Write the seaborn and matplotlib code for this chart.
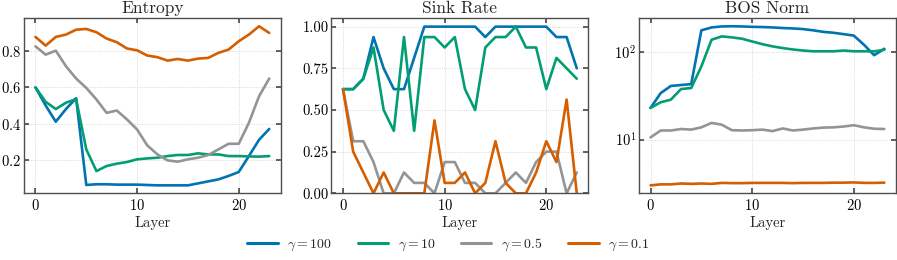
import numpy as np
import pandas as pd
import matplotlib
matplotlib.use("Agg")
import matplotlib.pyplot as plt
import seaborn as sns

# --- datos ---
layers = list(range(24))
gammas = ["$\\gamma=100$", "$\\gamma=10$", "$\\gamma=0.5$", "$\\gamma=0.1$"]

entropy_100 = [0.60, 0.50, 0.41, 0.48, 0.54, 0.060, 0.064, 0.064, 0.062, 0.062, 0.062, 0.060,
               0.058, 0.058, 0.058, 0.058, 0.069, 0.080, 0.091, 0.110, 0.132, 0.220, 0.31, 0.37]
entropy_10 = [0.60, 0.52, 0.48, 0.515, 0.535, 0.257, 0.137, 0.165, 0.178, 0.187, 0.202, 0.207,
              0.211, 0.220, 0.226, 0.226, 0.235, 0.229, 0.229, 0.220, 0.220, 0.218, 0.217, 0.220]
entropy_05 = [0.827, 0.781, 0.803, 0.717, 0.649, 0.597, 0.533, 0.459, 0.472, 0.423, 0.367, 0.279,
              0.229, 0.196, 0.189, 0.202, 0.211, 0.226, 0.257, 0.288, 0.288, 0.404, 0.551, 0.649]
entropy_01 = [0.879, 0.831, 0.879, 0.892, 0.919, 0.923, 0.905, 0.870, 0.850, 0.815, 0.805, 0.776,
              0.767, 0.748, 0.757, 0.748, 0.759, 0.763, 0.791, 0.809, 0.855, 0.892, 0.938, 0.901]

sink_100 = [0.625, 0.625, 0.6875, 0.9375, 0.75, 0.625, 0.625, 0.8125, 1.0, 1.0, 1.0, 1.0,
            1.0, 1.0, 0.9375, 1.0, 1.0, 1.0, 1.0, 1.0, 1.0, 0.9375, 0.9375, 0.75]
sink_10 = [0.625, 0.625, 0.6875, 0.875, 0.5, 0.375, 0.9375, 0.375, 0.9375, 0.9375, 0.875, 0.9375,
           0.625, 0.5, 0.875, 0.9375, 0.9375, 1.0, 0.875, 0.875, 0.625, 0.8125, 0.75, 0.6875]
sink_05 = [0.625, 0.3125, 0.3125, 0.1875, 0.0, 0.0, 0.125, 0.0625, 0.0625, 0.0, 0.1875, 0.1875,
           0.0625, 0.0625, 0.0, 0.0, 0.0625, 0.125, 0.0625, 0.1875, 0.25, 0.25, 0.0, 0.125]
sink_01 = [0.625, 0.25, 0.125, 0.0, 0.125, 0.0, 0.0, 0.0, 0.0, 0.4375, 0.0625, 0.0625,
           0.125, 0.0, 0.0625, 0.3125, 0.0625, 0.0, 0.0, 0.125, 0.3125, 0.1875, 0.5625, 0.0]

bos_100 = [23, 34, 41, 42, 43, 177, 191, 196, 197, 196, 194, 193,
           191, 188, 186, 183, 177, 170, 166, 160, 154, 121, 92, 109]
bos_10 = [23, 26.7, 28.6, 37.8, 38.8, 68.6, 138, 151, 147, 142, 132, 123,
          116, 111, 107, 104, 102, 102, 102, 104, 102, 102, 102, 106]
bos_05 = [10.6, 12.7, 12.7, 13.2, 13.0, 13.8, 15.5, 14.8, 12.8, 12.7, 12.8, 13.0,
          12.5, 13.4, 12.7, 13.0, 13.4, 13.7, 13.8, 14.1, 14.6, 13.8, 13.3, 13.2]
bos_01 = [3.0, 3.08, 3.08, 3.15, 3.12, 3.15, 3.12, 3.2, 3.18, 3.18, 3.2, 3.2,
          3.2, 3.2, 3.18, 3.2, 3.2, 3.2, 3.22, 3.22, 3.24, 3.2, 3.2, 3.22]

colores = ["#0173b2", "#029e73", "#949494", "#d55e00"]

# --- tabla larga ---
filas = []
series = {
    "Entropy": [entropy_100, entropy_10, entropy_05, entropy_01],
    "Sink Rate": [sink_100, sink_10, sink_05, sink_01],
    "BOS Norm": [bos_100, bos_10, bos_05, bos_01],
}
for metrica, listas in series.items():
    for g, vals in zip(gammas, listas):
        for l, v in zip(layers, vals):
            filas.append({"Metric": metrica, "gamma": g, "Layer": l, "Value": v})
df = pd.DataFrame(filas)

# --- estilo ---
sns.set_theme(style="ticks")
plt.rcParams.update({
    "font.family": ["cmr10", "DejaVu Serif"],
    "mathtext.fontset": "cm",
    "axes.formatter.use_mathtext": True,
    "axes.edgecolor": "#4d4d4d",
    "axes.linewidth": 1.0,
    "xtick.color": "#4d4d4d",
    "ytick.color": "#4d4d4d",
    "xtick.labelcolor": "black",
    "ytick.labelcolor": "black",
    "xtick.direction": "in",
    "ytick.direction": "in",
    "xtick.top": True,
    "ytick.right": True,
    "xtick.major.size": 3.5,
    "ytick.major.size": 3.5,
    "ytick.major.pad": 2.0,
    "xtick.labelsize": 10.5,
    "ytick.labelsize": 10.5,
    "axes.titlesize": 12.5,
    "axes.labelsize": 10.5,
})

fig, axes = plt.subplots(1, 3, figsize=(8.97, 2.6), dpi=100)
fig.subplots_adjust(left=0.0265, right=0.9989, bottom=0.2565, top=0.9296, wspace=0.196)

paleta = dict(zip(gammas, colores))
for ax, metrica in zip(axes, ["Entropy", "Sink Rate", "BOS Norm"]):
    sns.lineplot(data=df[df["Metric"] == metrica], x="Layer", y="Value", hue="gamma",
                 hue_order=gammas, palette=paleta, linewidth=1.9, ax=ax, legend=False)
    ax.set_title(metrica, pad=3.5)
    ax.set_xlabel("Layer", labelpad=2)
    ax.set_ylabel("")
    ax.grid(True, linestyle=":", linewidth=0.6, color="#cccccc")
    ax.set_xticks([0, 10, 20])
    ax.minorticks_off()

axes[1].set_ylim(0, 1.05)
axes[1].set_yticks([0, 0.25, 0.5, 0.75, 1.0])
axes[1].set_yticklabels(["0.00", "0.25", "0.50", "0.75", "1.00"])
axes[2].set_yscale("log")
axes[2].minorticks_off()

handles = [plt.Line2D([], [], color=c, linewidth=2.2) for c in colores]
fig.legend(handles, gammas, loc="center", bbox_to_anchor=(0.5, 0.06), ncol=4,
           frameon=False, fontsize=10, handlelength=2.2, handletextpad=0.7, columnspacing=1.8)

plt.savefig("out.png", dpi=100)
plt.close()
